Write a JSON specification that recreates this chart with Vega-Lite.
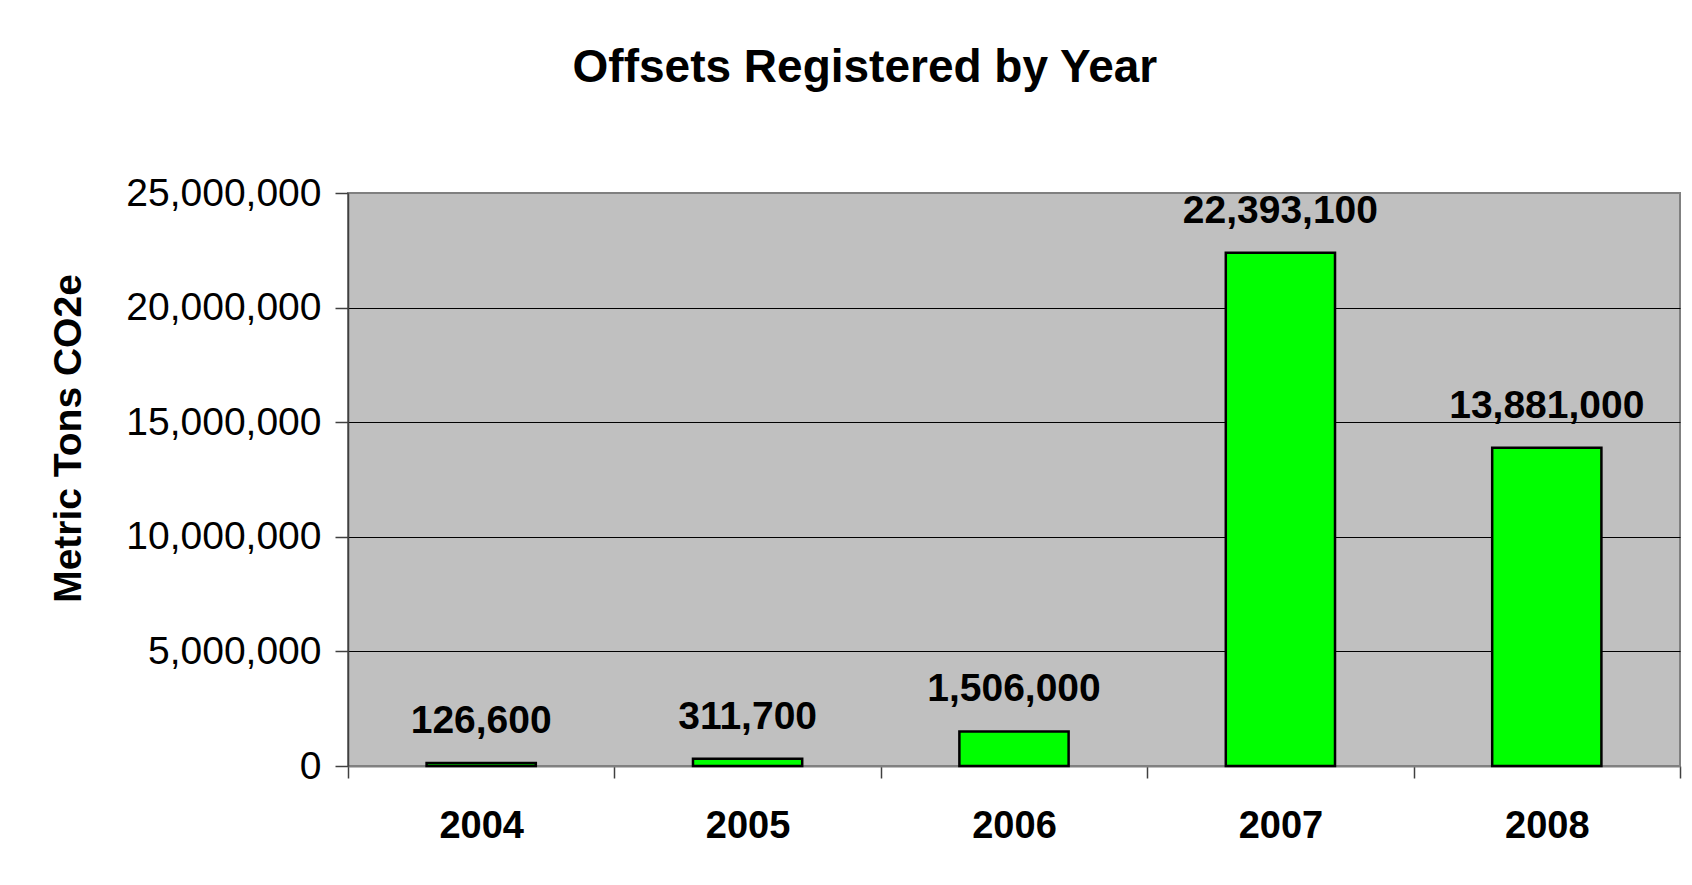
{
  "$schema": "https://vega.github.io/schema/vega-lite/v6.json",
  "autosize": {"type": "none"},
  "padding": {"left": 348, "top": 193, "right": 12, "bottom": 119},
  "width": 1332,
  "height": 573,
  "background": "#FFFFFF",
  "title": {
    "text": "Offsets Registered by Year",
    "font": "Liberation Sans",
    "fontSize": 46,
    "fontWeight": "bold",
    "color": "#000000",
    "anchor": "middle",
    "frame": "bounds",
    "baseline": "alphabetic",
    "offset": 46
  },
  "data": {
    "values": [
      {"Year": "2004", "Tons": 126600},
      {"Year": "2005", "Tons": 311700},
      {"Year": "2006", "Tons": 1506000},
      {"Year": "2007", "Tons": 22393100},
      {"Year": "2008", "Tons": 13881000}
    ]
  },
  "encoding": {
    "x": {
      "field": "Year",
      "type": "nominal",
      "sort": null,
      "scale": {"paddingInner": 0, "paddingOuter": 0},
      "axis": {
        "title": null,
        "labelAngle": 0,
        "labelFont": "Liberation Sans",
        "labelFontSize": 38,
        "labelFontWeight": "bold",
        "labelColor": "#000000",
        "labelPadding": 29,
        "tickBand": "extent",
        "tickSize": 12,
        "tickColor": "#404040",
        "tickWidth": 1.5,
        "domainColor": "#808080",
        "domainWidth": 2,
        "grid": false
      }
    },
    "y": {
      "field": "Tons",
      "type": "quantitative",
      "scale": {"domain": [0, 25000000], "nice": false},
      "axis": {
        "title": "Metric Tons CO2e",
        "titleFont": "Liberation Sans",
        "titleFontSize": 39,
        "titleFontWeight": "bold",
        "titleColor": "#000000",
        "titlePadding": 60,
        "titleY": 245,
        "values": [0, 5000000, 10000000, 15000000, 20000000, 25000000],
        "format": ",d",
        "labelFont": "Liberation Sans",
        "labelFontSize": 39,
        "labelColor": "#000000",
        "labelPadding": 14,
        "labelLimit": 0,
        "tickSize": 13,
        "tickColor": "#404040",
        "tickWidth": 1.5,
        "domainColor": "#404040",
        "domainWidth": 1.5,
        "grid": true,
        "gridColor": {"condition": {"test": "datum.value === 0 || datum.value === 25000000", "value": "#808080"}, "value": "#000000"},
        "gridWidth": 1
      }
    }
  },
  "layer": [
    {
      "mark": {"type": "bar", "width": {"band": 0.41}, "fill": "#00FF00", "stroke": "#000000", "strokeWidth": 2.5}
    },
    {
      "mark": {
        "type": "text",
        "font": "Liberation Sans",
        "fontSize": 39,
        "fontWeight": "bold",
        "color": "#000000",
        "baseline": "alphabetic",
        "align": "center",
        "dy": -30
      },
      "encoding": {
        "text": {"field": "Tons", "type": "quantitative", "format": ",d"}
      }
    }
  ],
  "config": {
    "view": {"fill": "#C0C0C0", "stroke": "#808080", "strokeWidth": 2}
  }
}
